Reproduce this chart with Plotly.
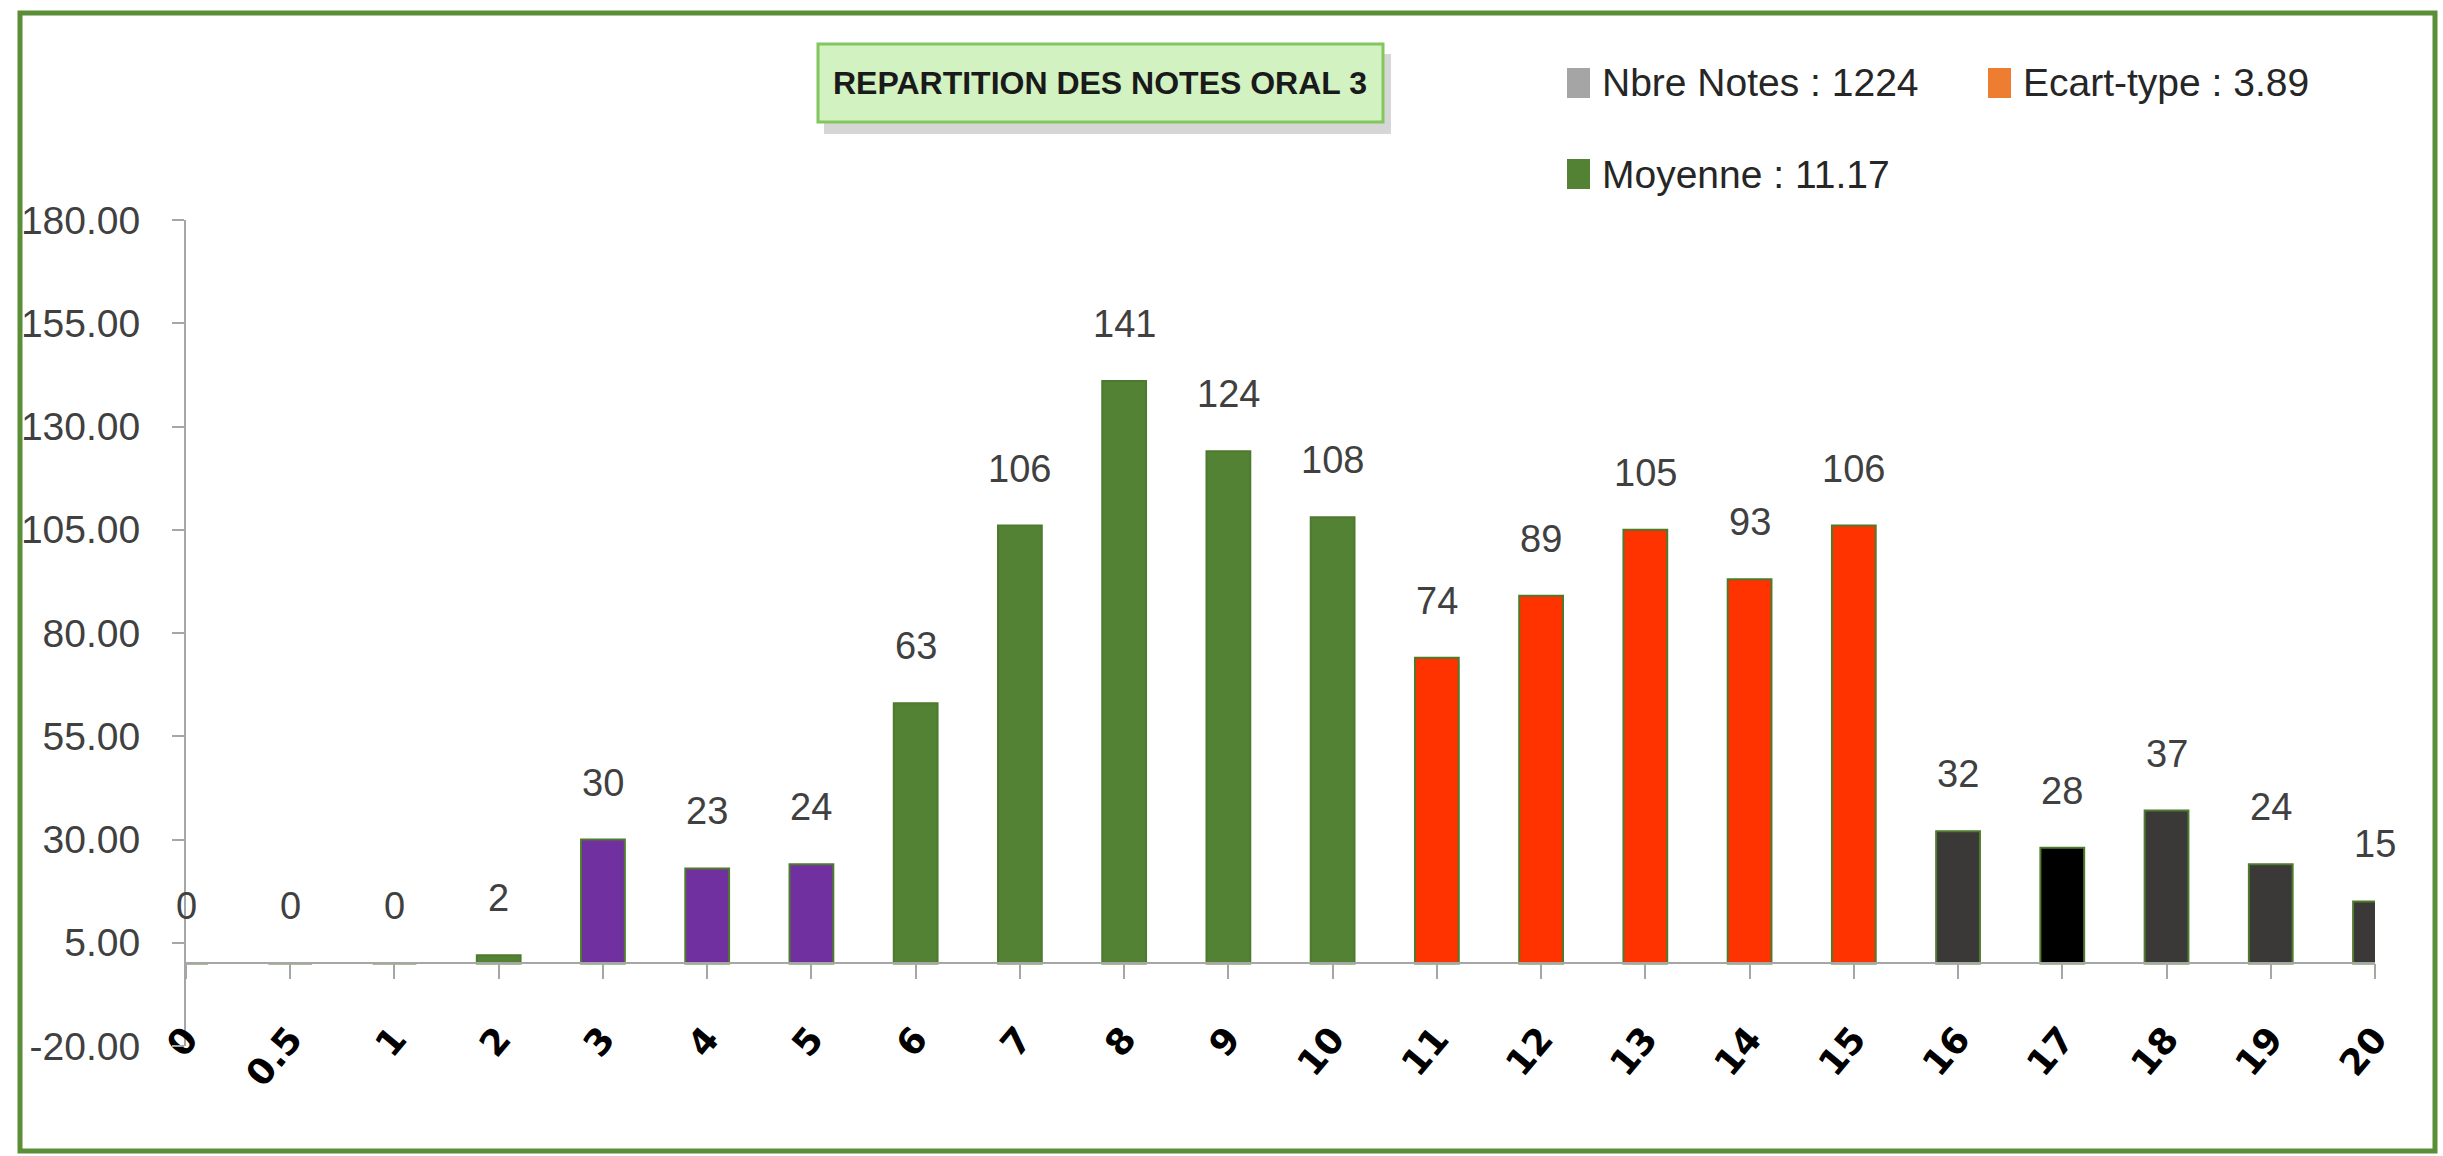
import plotly.graph_objects as go

# ---- data ----
notes = ["0", "0.5", "1", "2", "3", "4", "5", "6", "7", "8", "9", "10",
         "11", "12", "13", "14", "15", "16", "17", "18", "19", "20"]
counts = [0, 0, 0, 2, 30, 23, 24, 63, 106, 141, 124, 108,
          74, 89, 105, 93, 106, 32, 28, 37, 24, 15]
bar_colors = ["#548235", "#548235", "#548235", "#548235",
              "#7030A0", "#7030A0", "#7030A0",
              "#548235", "#548235", "#548235", "#548235", "#548235",
              "#FF3300", "#FF3300", "#FF3300", "#FF3300", "#FF3300",
              "#3B3838", "#000000", "#3B3838", "#3B3838", "#3B3838"]
y_ticks = [-20, 5, 30, 55, 80, 105, 130, 155, 180]
title_text = "REPARTITION DES NOTES ORAL 3"
legend_items = [("Nbre Notes : 1224", "#A5A5A5"),
                ("Ecart-type : 3.89", "#ED7D31"),
                ("Moyenne : 11.17", "#548235")]

# ---- layout geometry (pixels) ----
W, H = 2443, 1156
ML, MR, MT, MB = 186, 68, 220, 110
PW, PH = W - ML - MR, H - MT - MB


def px(p):
    return (p - ML) / PW


def py(p):
    return 1 - (p - MT) / PH


FONT = "Liberation Sans, Arial, sans-serif"

fig = go.Figure()
fig.add_trace(go.Bar(
    x=notes, y=counts,
    marker=dict(color=bar_colors, line=dict(color="#4E7A2E", width=2)),
    showlegend=False, hoverinfo="x+y",
))

annotations = []
for i, c in enumerate(counts):
    annotations.append(dict(
        x=i, y=c, xref="x", yref="y", text=str(c), showarrow=False,
        yanchor="middle", yshift=57,
        font=dict(family=FONT, size=38, color="#404040"),
    ))

# title box text
annotations.append(dict(
    x=px(1100), y=py(83), xref="paper", yref="paper", text="<b>%s</b>" % title_text,
    showarrow=False, xanchor="center", yanchor="middle",
    font=dict(family=FONT, size=32, color="#1A1A1A"),
))

# legend (custom)
leg_pos = [(1567, 83), (1988, 83), (1567, 174)]
shapes = []
for (label, col), (lx, ly) in zip(legend_items, leg_pos):
    shapes.append(dict(type="rect", xref="paper", yref="paper",
                       x0=px(lx), x1=px(lx + 23), y0=py(ly - 15), y1=py(ly + 15),
                       fillcolor=col, line=dict(width=0)))
    annotations.append(dict(
        x=px(lx + 33), y=py(ly), xref="paper", yref="paper", text=label,
        showarrow=False, xanchor="left", yanchor="middle",
        font=dict(family=FONT, size=39, color="#262626"),
    ))

# title box shadow + box
shapes.insert(0, dict(type="rect", xref="paper", yref="paper",
                      x0=px(824), x1=px(1391), y0=py(54), y1=py(134),
                      fillcolor="rgba(0,0,0,0.16)", line=dict(width=0), layer="below"))
shapes.insert(1, dict(type="rect", xref="paper", yref="paper",
                      x0=px(818), x1=px(1383), y0=py(44), y1=py(122),
                      fillcolor="#D2F2C2", line=dict(color="#82C65F", width=3),
                      layer="below"))
# outer frame
shapes.append(dict(type="rect", xref="paper", yref="paper",
                   x0=px(20), x1=px(2435), y0=py(13), y1=py(1151),
                   line=dict(color="#5A8E37", width=5), fillcolor="rgba(0,0,0,0)"))

ymin, ymax = y_ticks[0], y_ticks[-1]

fig.update_layout(
    width=W, height=H,
    margin=dict(l=ML, r=MR, t=MT, b=MB, pad=0),
    paper_bgcolor="white", plot_bgcolor="white",
    bargap=0.58,
    showlegend=False,
    annotations=annotations,
    shapes=shapes,
    xaxis=dict(
        type="category", range=[0, len(notes) - 1],
        anchor="free", position=(0 - ymin) / (ymax - ymin),
        showline=True, linecolor="#A6A6A6", linewidth=2,
        ticks="outside", ticklen=15, tickcolor="#A6A6A6", tickwidth=2,
        tickangle=-50, ticklabelstandoff=24,
        tickfont=dict(family="DejaVu Sans", size=36, color="#000000", weight="bold"),
        showgrid=False, zeroline=False,
    ),
    yaxis=dict(
        range=[ymin, ymax], tickvals=y_ticks,
        ticktext=["%.2f" % v for v in y_ticks],
        showline=True, linecolor="#A6A6A6", linewidth=2,
        ticks="outside", ticklen=12, tickcolor="#A6A6A6", tickwidth=2,
        ticklabelstandoff=24,
        tickfont=dict(family=FONT, size=39, color="#404040"),
        showgrid=False, zeroline=False,
    ),
)

fig.write_html("out.html", config={"displayModeBar": False},
               post_script="document.body.style.margin='0';document.body.style.overflow='hidden';")
